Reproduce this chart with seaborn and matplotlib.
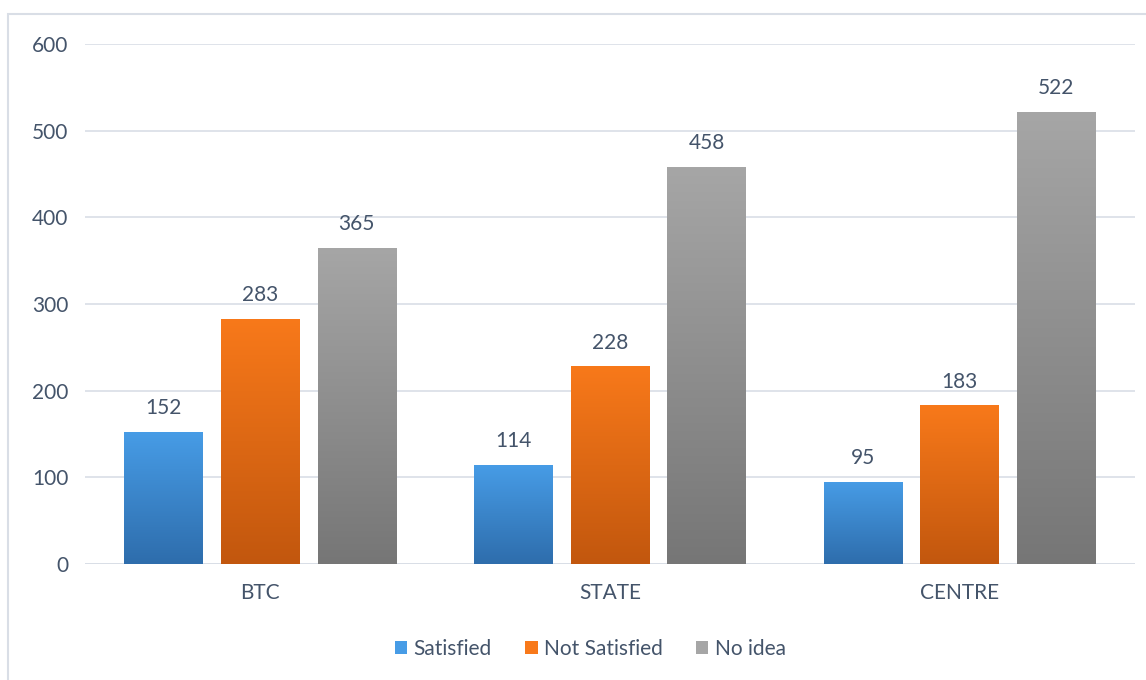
import numpy as np
import pandas as pd
import matplotlib
matplotlib.use("Agg")
import matplotlib.pyplot as plt
import matplotlib.patches as mpatches
from matplotlib.colors import LinearSegmentedColormap
import seaborn as sns

# --- data ---
categories = ["BTC", "STATE", "CENTRE"]
series = ["Satisfied", "Not Satisfied", "No idea"]
satisfied = [152, 114, 95]
not_satisfied = [283, 228, 183]
no_idea = [365, 458, 522]

df = pd.DataFrame({
    "group": categories * 3,
    "answer": [s for s in series for _ in categories],
    "count": satisfied + not_satisfied + no_idea,
})

# --- style ---
sns.set_style("white")
plt.rcParams["font.family"] = ["Lato", "DejaVu Sans"]
TEXT = "#44546A"
GRID = "#D9DEE6"
FS = 15

# top / bottom colours of each gradient
grad = {
    "Satisfied": ("#479CE6", "#2E6DAC"),
    "Not Satisfied": ("#F8791A", "#C2570E"),
    "No idea": ("#A6A6A6", "#767676"),
}

fig = plt.figure(figsize=(11.46, 6.8), dpi=100)
ax = fig.add_axes([0.0742, 0.1706, 0.9158, 0.7647])

sns.barplot(data=df, x="group", y="count", hue="answer", order=categories,
            hue_order=series, width=0.83, gap=0.19, ax=ax, legend=False,
            palette=[grad[s][0] for s in series])

ax.set_xlim(-0.5, 2.5)
ax.set_ylim(0, 600)
ax.set_yticks(range(0, 601, 100))
ax.yaxis.grid(True, color=GRID, linewidth=1.2)
ax.set_axisbelow(True)
for sp in ax.spines.values():
    sp.set_visible(False)
ax.set_xlabel("")
ax.set_ylabel("")
ax.tick_params(axis="both", length=0, labelsize=FS, labelcolor=TEXT)
ax.tick_params(axis="y", pad=12)
ax.tick_params(axis="x", pad=14)
ax.axhline(0, color=GRID, linewidth=1.4, zorder=1)

# gradient fill for each bar, plus value labels
grad_img = np.linspace(1, 0, 256).reshape(-1, 1)
for name, cont in zip(series, ax.containers):
    cmap = LinearSegmentedColormap.from_list(name, [grad[name][1], grad[name][0]])
    for bar in cont:
        x, y = bar.get_x(), bar.get_y()
        w, h = bar.get_width(), bar.get_height()
        bar.set_facecolor("none")
        bar.set_edgecolor("none")
        im = ax.imshow(grad_img, cmap=cmap, aspect="auto", extent=[x, x + w, y, y + h],
                       zorder=2, vmin=0, vmax=1)
        im.set_clip_path(bar)
        ax.text(x + w / 2, h + 16, f"{int(h)}", ha="center", va="bottom",
                fontsize=FS, color=TEXT)
ax.set_xlim(-0.5, 2.5)
ax.set_ylim(0, 600)

# legend
handles = [mpatches.Patch(facecolor=grad[s][0], edgecolor="none", label=s) for s in series]
fig.legend(handles=handles, loc="center", bbox_to_anchor=(0.515, 0.046), ncol=3,
           frameon=False, fontsize=FS, labelcolor=TEXT, handlelength=0.6,
           handleheight=0.6, handletextpad=0.3, columnspacing=1.6)

# chart border
border = mpatches.Rectangle((8 / 1146, -0.1), 1.2, 1.1 - 14 / 680, transform=fig.transFigure,
                            facecolor="none", edgecolor="#D9DEE6", linewidth=1.5)
fig.patches.append(border)

fig.savefig("out.png", dpi=100)
